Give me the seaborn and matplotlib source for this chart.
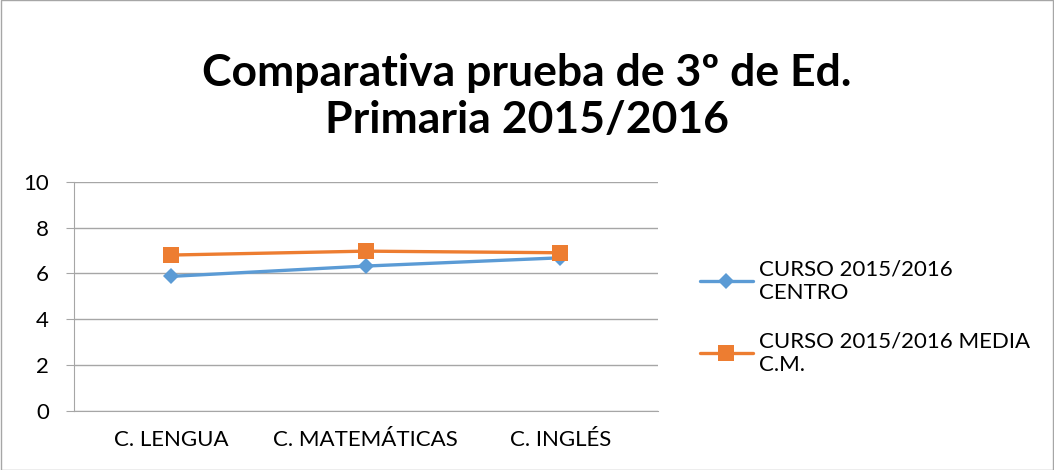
import seaborn as sns
import matplotlib.pyplot as plt
import pandas as pd

categories = ["C. LENGUA", "C. MATEMÁTICAS", "C. INGLÉS"]
centro = [5.87, 6.32, 6.68]
media_cm = [6.80, 6.97, 6.90]
series_names = ["CURSO 2015/2016\nCENTRO", "CURSO 2015/2016 MEDIA\nC.M."]

df = pd.DataFrame({
    "cat": categories * 2,
    "x": list(range(len(categories))) * 2,
    "valor": centro + media_cm,
    "serie": [series_names[0]] * 3 + [series_names[1]] * 3,
})

sns.set_style("white")
plt.rcParams["font.family"] = ["Lato", "DejaVu Sans"]
plt.rcParams["text.color"] = "black"
plt.rcParams["xtick.color"] = "black"
plt.rcParams["ytick.color"] = "black"

fig = plt.figure(figsize=(10.54, 4.7), dpi=100)
ax = fig.add_axes([0.070, 0.1255, 0.554, 0.488])

sns.lineplot(
    data=df, x="x", y="valor", hue="serie", style="serie",
    palette=["#5b9bd5", "#ed7d31"], markers={series_names[0]: "D", series_names[1]: "s"},
    dashes=False, linewidth=2.4, markersize=8, markeredgewidth=0, ax=ax,
)
# squares a bit bigger than the diamonds, as in the original
for ln in ax.lines:
    if ln.get_marker() == "s":
        ln.set_markersize(11)

ax.set_xlim(-0.5, 2.5)
ax.set_ylim(0, 10)
ax.set_yticks(range(0, 11, 2))
ax.set_xticks(range(len(categories)))
ax.set_xticklabels(categories)
ax.set_xticks([-0.5, 0.5, 1.5, 2.5], minor=True)
ax.tick_params(axis="x", which="major", length=0, labelsize=16, pad=14, labelcolor="black")
ax.tick_params(axis="x", which="minor", length=6, color="#a6a6a6", width=1)
ax.tick_params(axis="y", length=6, color="#a6a6a6", labelsize=16, direction="out", left=True,
               pad=12, labelcolor="black")
ax.set_xlabel("")
ax.set_ylabel("")
ax.grid(axis="y", color="#a6a6a6", linewidth=1)
for side in ["top", "right"]:
    ax.spines[side].set_visible(False)
for side in ["left", "bottom"]:
    ax.spines[side].set_color("#a6a6a6")

leg = ax.legend(loc="center left", bbox_to_anchor=(1.072, 0.41), frameon=False,
                fontsize=16, handlelength=2.4, handletextpad=0.25, labelspacing=1.3,
                borderaxespad=0, borderpad=0)
for h in leg.legend_handles:
    if h.get_marker() == "s":
        h.set_markersize(11)
for t in leg.get_texts():
    t.set_color("black")

fig.text(0.5, 0.795, "Comparativa prueba de 3º de Ed.\nPrimaria 2015/2016",
         ha="center", va="center", fontsize=32, fontweight="bold", linespacing=1.2,
         color="black")

fig.patches.append(plt.Rectangle((0.001, 0.001), 0.998, 0.998, transform=fig.transFigure,
                                 fill=False, edgecolor="#a6a6a6", linewidth=1))

fig.savefig("out.png", dpi=100)
